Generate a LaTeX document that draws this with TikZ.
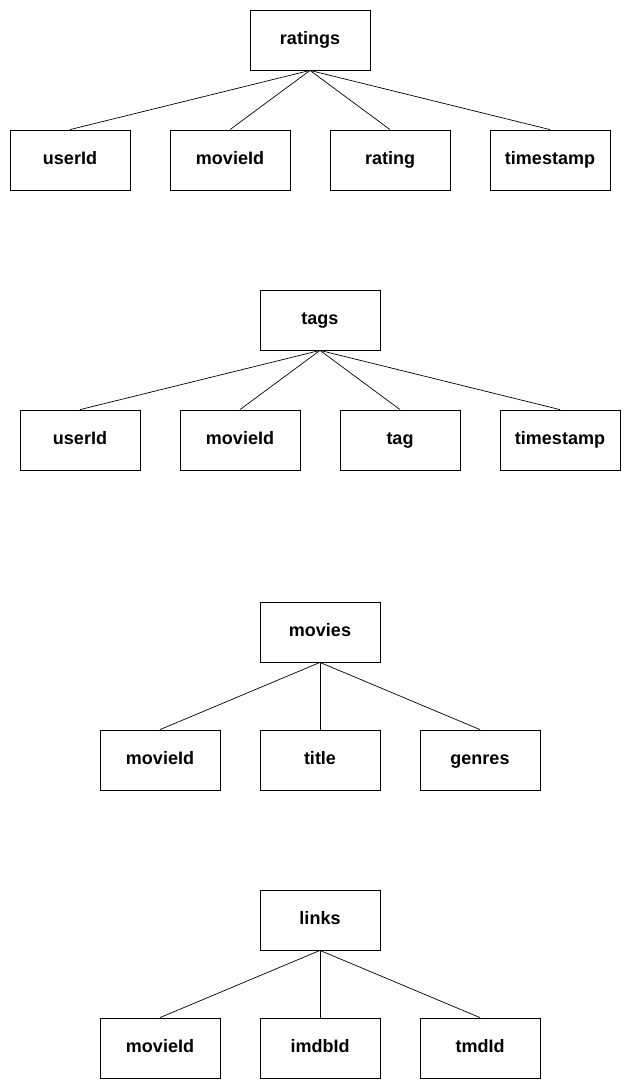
\documentclass[tikz,border=0pt]{standalone}
\usepackage{fontspec}
\setmainfont{Liberation Sans}
\begin{document}
\begin{tikzpicture}[x=1pt,y=-1pt,
  field/.style={draw,line width=0.8pt,minimum width=120pt,minimum height=60pt,inner sep=0pt,text height=13pt,text depth=4pt,font=\fontsize{18}{21}\selectfont\bfseries},
  link/.style={line width=0.7pt}]
\useasboundingbox (0,0) rectangle (631,1090);
% ratings
\node[field] (ratings) at (310,40) {ratings};
\node[field] (r1) at (70,160) {userId};
\node[field] (r2) at (230,160) {movieId};
\node[field] (r3) at (390,160) {rating};
\node[field] (r4) at (550,160) {timestamp};
\foreach \c in {r1,r2,r3,r4} \draw[link] (ratings.south) -- (\c.north);
% tags
\node[field] (tags) at (320,320) {tags};
\node[field] (t1) at (80,440) {userId};
\node[field] (t2) at (240,440) {movieId};
\node[field] (t3) at (400,440) {tag};
\node[field] (t4) at (560,440) {timestamp};
\foreach \c in {t1,t2,t3,t4} \draw[link] (tags.south) -- (\c.north);
% movies
\node[field] (movies) at (320,632) {movies};
\node[field] (m1) at (160,760) {movieId};
\node[field] (m2) at (320,760) {title};
\node[field] (m3) at (480,760) {genres};
\foreach \c in {m1,m2,m3} \draw[link] (movies.south) -- (\c.north);
% links
\node[field] (links) at (320,920) {links};
\node[field] (l1) at (160,1048) {movieId};
\node[field] (l2) at (320,1048) {imdbId};
\node[field] (l3) at (480,1048) {tmdId};
\foreach \c in {l1,l2,l3} \draw[link] (links.south) -- (\c.north);
\end{tikzpicture}
\end{document}
